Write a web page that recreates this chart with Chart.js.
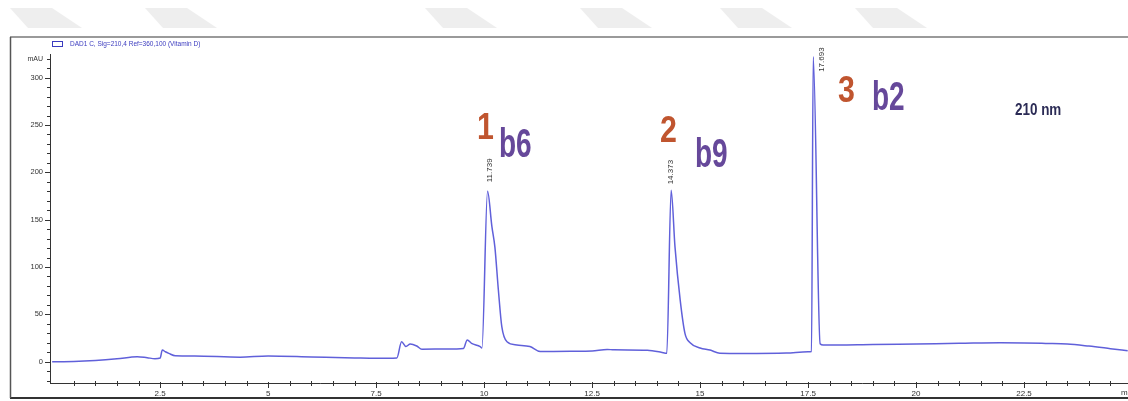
<!DOCTYPE html>
<html>
<head>
<meta charset="utf-8">
<script src="https://cdn.jsdelivr.net/npm/chart.js@4.4.0/dist/chart.umd.min.js"></script>
<style>
  body { margin: 0; background: #fff; overflow: hidden; }
  #wrap { position: absolute; left: 0; top: 0; width: 1128px; height: 401px; overflow: hidden; }
</style>
</head>
<body>
<div id="wrap"><canvas id="hplcChart" width="1140" height="401"></canvas></div>
<script>
// retention time (min) and absorbance (mAU)
const times = [0, 0.5, 1.0, 1.5, 1.97, 2.2, 2.38, 2.5, 2.55, 2.62, 2.7, 2.85, 3.3, 4.35, 5.0, 6.0, 7.0, 7.5,
  7.98, 8.09, 8.19, 8.29, 8.44, 8.56, 9.14, 9.52, 9.61, 9.71, 9.91, 9.95,
  10.08, 10.18, 10.25, 10.33, 10.41, 10.53, 10.76, 11.06, 11.3, 11.6, 12.0, 12.5, 12.85, 13.0, 13.78, 14.1, 14.23,
  14.33, 14.42, 14.54, 14.65, 14.77, 15.0, 15.23, 15.46, 16.0, 17.0, 17.5, 17.58,
  17.62, 17.78, 17.85, 19.0, 20.0, 21.0, 21.94, 22.5, 23.0, 23.5, 24.0, 24.5, 24.9];
const mAU = [0, 0.2, 1.2, 3.0, 5.3, 4.2, 3.2, 3.9, 12.3, 10.5, 8.8, 6.2, 6.0, 4.8, 6.0, 5.0, 4.0, 3.6,
  4.0, 21, 16, 18.7, 16.6, 13.2, 13.4, 14, 23, 19.4, 16, 14.5,
  180, 143, 121, 76, 37, 21, 17.6, 16, 10.7, 10.8, 11.0, 11.4, 13.0, 12.5, 12.0, 10.0, 8.8,
  181, 121, 65, 30, 20, 14.5, 12.3, 9.0, 8.7, 9.2, 10.5, 10.7,
  322, 19, 17.6, 18.2, 18.8, 19.4, 20, 19.8, 19.3, 18.7, 16.5, 13.8, 11.6];

// tick labels
const xTicks = [2.5, 5, 7.5, 10, 12.5, 15, 17.5, 20, 22.5];
const yTicks = [0, 50, 100, 150, 200, 250, 300];

// peak apex times and their printed retention labels
const peakRT = [10.08, 14.33, 17.62];
const peakApex = [180, 181, 322];
const peakLabels = ["11.739", "14.373", "17.693"];

const compoundNums = ["1", "2", "3"];
const compoundNames = ["b6", "b9", "b2"];
const legendText = "DAD1 C, Sig=210,4 Ref=360,100 (Vitamin D)";
const waveText = "210 nm";

const FONT = "'Liberation Sans', Arial, sans-serif";

function condensed(ctx, text, x, y, font, color, sx) {
  ctx.save();
  ctx.font = font;
  ctx.fillStyle = color;
  ctx.textAlign = "left";
  ctx.textBaseline = "alphabetic";
  ctx.translate(x, y);
  ctx.scale(sx, 1);
  ctx.fillText(text, 0, 0);
  ctx.restore();
}

const decor = {
  id: "decor",
  beforeDraw(chart) {
    const ctx = chart.ctx;
    ctx.save();
    ctx.fillStyle = "#fff";
    ctx.fillRect(0, 0, chart.width, chart.height);
    // faint watermark shapes along the top
    ctx.fillStyle = "#eeeeee";
    [10, 145, 425, 580, 720, 855].forEach(s => {
      ctx.beginPath();
      ctx.moveTo(s, 8);
      ctx.lineTo(s + 42, 8);
      ctx.lineTo(s + 72, 28);
      ctx.lineTo(s + 18, 28);
      ctx.closePath();
      ctx.fill();
    });
    // outer frame
    ctx.strokeStyle = "#9a9a9a";
    ctx.lineWidth = 2;
    ctx.beginPath(); ctx.moveTo(10, 37); ctx.lineTo(1140, 37); ctx.stroke();
    ctx.strokeStyle = "#333";
    ctx.beginPath(); ctx.moveTo(10, 398); ctx.lineTo(1140, 398); ctx.stroke();
    ctx.strokeStyle = "#555";
    ctx.lineWidth = 1.5;
    ctx.beginPath(); ctx.moveTo(10.5, 37); ctx.lineTo(10.5, 398); ctx.stroke();
    ctx.restore();
  },
  afterDraw(chart) {
    const ctx = chart.ctx;
    const xs = chart.scales.x, ys = chart.scales.y;
    const a = chart.chartArea;
    ctx.save();
    ctx.strokeStyle = "#333";
    ctx.lineWidth = 1;
    // x ticks: minor every 0.5, major every 2.5
    for (let i = 1; i <= 50; i++) {
      const v = i * 0.5;
      const px = Math.round(xs.getPixelForValue(v)) + 0.5;
      const major = i % 5 === 0;
      ctx.beginPath();
      ctx.moveTo(px, a.bottom + (major ? -1 : -2));
      ctx.lineTo(px, a.bottom + (major ? 5 : 3));
      ctx.stroke();
    }
    // y ticks: minor every 10, major every 50
    for (let v = -20; v <= 320; v += 10) {
      const py = Math.round(ys.getPixelForValue(v)) + 0.5;
      const major = v % 50 === 0;
      ctx.beginPath();
      ctx.moveTo(a.left - (major ? 5 : 3), py);
      ctx.lineTo(a.left + (major ? 0 : 1), py);
      ctx.stroke();
    }
    ctx.fillStyle = "#333";
    ctx.font = "7px " + FONT;
    ctx.textAlign = "right";
    ctx.textBaseline = "middle";
    ctx.fillText("mAU", 43, 59);
    ctx.textAlign = "left";
    ctx.font = "8px " + FONT;
    ctx.fillText("min", 1121, 393);

    // legend
    ctx.strokeStyle = "#3b3bbf";
    ctx.strokeRect(52.5, 41.5, 10, 5);
    ctx.fillStyle = "#3b3bbf";
    ctx.font = "6.5px " + FONT;
    ctx.fillText(legendText, 70, 44);

    // vertical retention labels at the peaks
    const offs = [[2, -9], [0, -6], [9, 15]];
    ctx.fillStyle = "#333";
    ctx.font = "8px " + FONT;
    ctx.textBaseline = "middle";
    peakLabels.forEach((t, i) => {
      const px = xs.getPixelForValue(peakRT[i]) + offs[i][0];
      const py = ys.getPixelForValue(peakApex[i]) + offs[i][1];
      ctx.save();
      ctx.translate(px, py);
      ctx.rotate(-Math.PI / 2);
      ctx.textAlign = "left";
      ctx.fillText(t, 0, 0);
      ctx.restore();
    });

    // big compound labels
    const numPos = [[477, 139], [660, 142], [838, 102]];
    const namePos = [[499, 157], [695, 167], [872, 110]];
    compoundNums.forEach((t, i) => {
      condensed(ctx, t, numPos[i][0], numPos[i][1], "bold 37px " + FONT, "#c0552f", 0.82);
      condensed(ctx, compoundNames[i], namePos[i][0], namePos[i][1], "bold 40px " + FONT, "#66489a", 0.7);
    });
    condensed(ctx, waveText, 1015, 115, "bold 16px " + FONT, "#2b2b55", 0.84);
    ctx.restore();
  }
};

const ctx = document.getElementById("hplcChart").getContext("2d");
const hplcChart = new Chart(ctx, {
  type: "line",
  data: {
    datasets: [
      {
        data: times.map((t, i) => ({ x: t, y: mAU[i] })),
        borderColor: "rgb(96, 96, 218)",
        borderWidth: 1.5,
        pointRadius: 0,
        cubicInterpolationMode: "monotone",
        fill: false,
      },
    ],
  },
  options: {
    responsive: false,
    animation: false,
    layout: { padding: { top: 54, right: 8, left: 0, bottom: 0 } },
    plugins: { legend: { display: false }, tooltip: { enabled: false } },
    scales: {
      x: {
        type: "linear",
        min: -0.05,
        max: 25,
        grid: { display: false, drawTicks: false },
        border: { display: true, color: "#333", width: 1 },
        ticks: {
          autoSkip: false,
          maxRotation: 0,
          padding: 6,
          color: "#333",
          font: { size: 8, family: FONT },
          callback: v => String(v),
        },
        afterBuildTicks: s => { s.ticks = xTicks.map(v => ({ value: v })); },
        afterFit: s => { s.height = 18; },
      },
      y: {
        min: -22.5,
        max: 325,
        grid: { display: false, drawTicks: false },
        border: { display: true, color: "#333", width: 1 },
        ticks: {
          autoSkip: false,
          padding: 7,
          color: "#333",
          font: { size: 7.5, family: FONT },
          callback: v => String(v),
        },
        afterBuildTicks: s => { s.ticks = yTicks.map(v => ({ value: v })); },
        afterFit: s => { s.width = 50; },
      },
    },
  },
  plugins: [decor],
});
</script>
</body>
</html>
